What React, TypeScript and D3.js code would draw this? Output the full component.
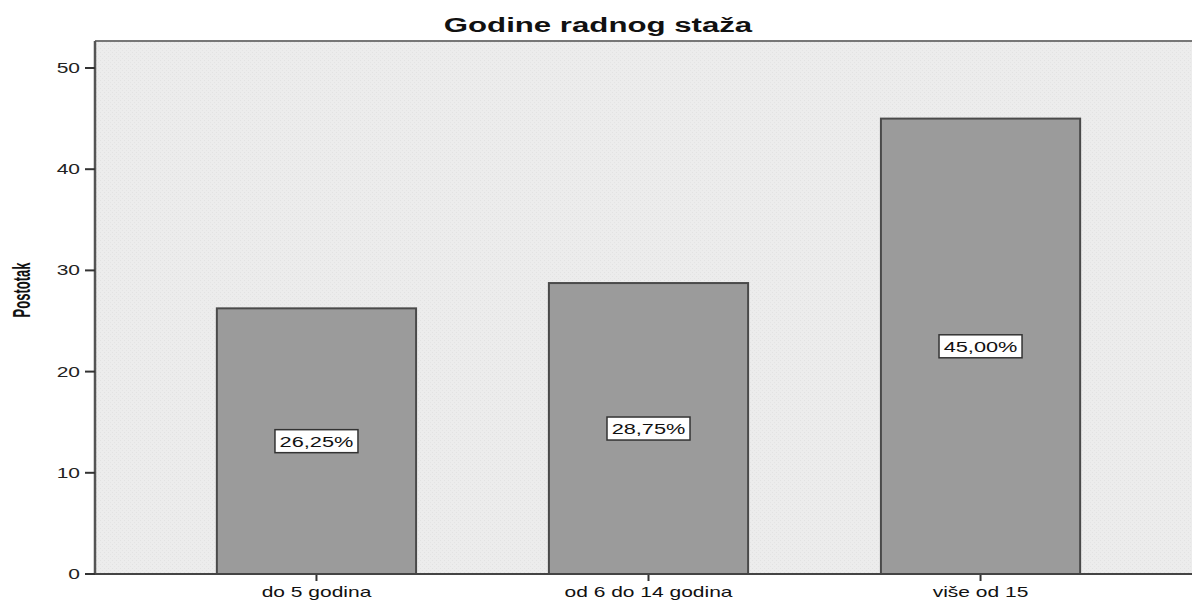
import { useEffect } from "react";
import * as d3 from "d3";

const categories = ["do 5 godina", "od 6 do 14 godina", "više od 15"];
const percents = [26.25, 28.75, 45.0];
const yTicks = [0, 10, 20, 30, 40, 50];

const W = 1192;
const H = 601;
const left = 95;
const top = 41;
const bottom = 574;
// the source image is stretched sideways, so text gets a matching scaleX
const SX = 1.5;
const font = "'Liberation Sans', Arial, sans-serif";

const fmt = (v: number) => v.toFixed(2).replace(".", ",") + "%";

export default function App() {
  useEffect(() => {
    document.body.style.margin = "0";
  }, []);

  const x = d3
    .scaleBand<string>()
    .domain(categories)
    .range([left, 1202])
    .paddingInner(0.4)
    .paddingOuter(0.367);
  const y = d3.scaleLinear().domain([0, 50]).range([bottom, 68]);

  return (
    <svg width={W} height={H} style={{ display: "block", background: "#fff" }}>
      <defs>
        <pattern id="grain" width="4" height="4" patternUnits="userSpaceOnUse">
          <rect width="4" height="4" fill="#ececec" />
          <rect x="0" y="0" width="1" height="1" fill="#e2e2e2" />
          <rect x="2" y="2" width="1" height="1" fill="#e4e4e4" />
        </pattern>
      </defs>

      <text
        transform={`translate(598,32) scale(${SX},1)`}
        textAnchor="middle"
        fontFamily={font}
        fontWeight="bold"
        fontSize={20.8}
        fill="#111"
      >
        Godine radnog staža
      </text>

      <rect x={left} y={top} width={W - left} height={bottom - top} fill="url(#grain)" />
      <line x1={left} x2={W} y1={top} y2={top} stroke="#777" strokeWidth={2} />

      {categories.map((c, i) => {
        const bx = x(c)!;
        const bw = x.bandwidth();
        const yv = y(percents[i]);
        const cy = y(percents[i] / 2);
        const label = fmt(percents[i]);
        const boxW = 83;
        const boxH = 23;
        return (
          <g key={c}>
            <rect
              x={bx}
              y={yv}
              width={bw}
              height={bottom - yv}
              fill="#9b9b9b"
              stroke="#4a4a4a"
              strokeWidth={2}
            />
            <rect
              x={bx + bw / 2 - boxW / 2}
              y={cy - boxH / 2}
              width={boxW}
              height={boxH}
              fill="#fff"
              stroke="#333"
              strokeWidth={1.5}
            />
            <text
              transform={`translate(${bx + bw / 2},${cy + 5.5}) scale(${SX},1)`}
              textAnchor="middle"
              fontFamily={font}
              fontSize={14.5}
              fill="#111"
            >
              {label}
            </text>
            <line
              x1={bx + bw / 2}
              x2={bx + bw / 2}
              y1={bottom}
              y2={bottom + 7}
              stroke="#333"
              strokeWidth={2}
            />
            <text
              transform={`translate(${bx + bw / 2},597) scale(${SX},1)`}
              textAnchor="middle"
              fontFamily={font}
              fontSize={14}
              fill="#111"
            >
              {c}
            </text>
          </g>
        );
      })}

      <line x1={left} x2={left} y1={top} y2={bottom} stroke="#555" strokeWidth={2.5} />
      <line x1={left - 10} x2={W} y1={bottom} y2={bottom} stroke="#444" strokeWidth={2} />

      {yTicks.map((t) => (
        <g key={t}>
          <line x1={left - 10} x2={left} y1={y(t)} y2={y(t)} stroke="#333" strokeWidth={2} />
          <text
            transform={`translate(${left - 15},${y(t) + 5}) scale(${SX},1)`}
            textAnchor="end"
            fontFamily={font}
            fontSize={14}
            fill="#222"
          >
            {t}
          </text>
        </g>
      ))}

      <text
        transform={`translate(30,290) scale(1.9,1) rotate(-90)`}
        textAnchor="middle"
        fontFamily={font}
        fontWeight="bold"
        fontSize={13}
        fill="#111"
      >
        Postotak
      </text>
    </svg>
  );
}
